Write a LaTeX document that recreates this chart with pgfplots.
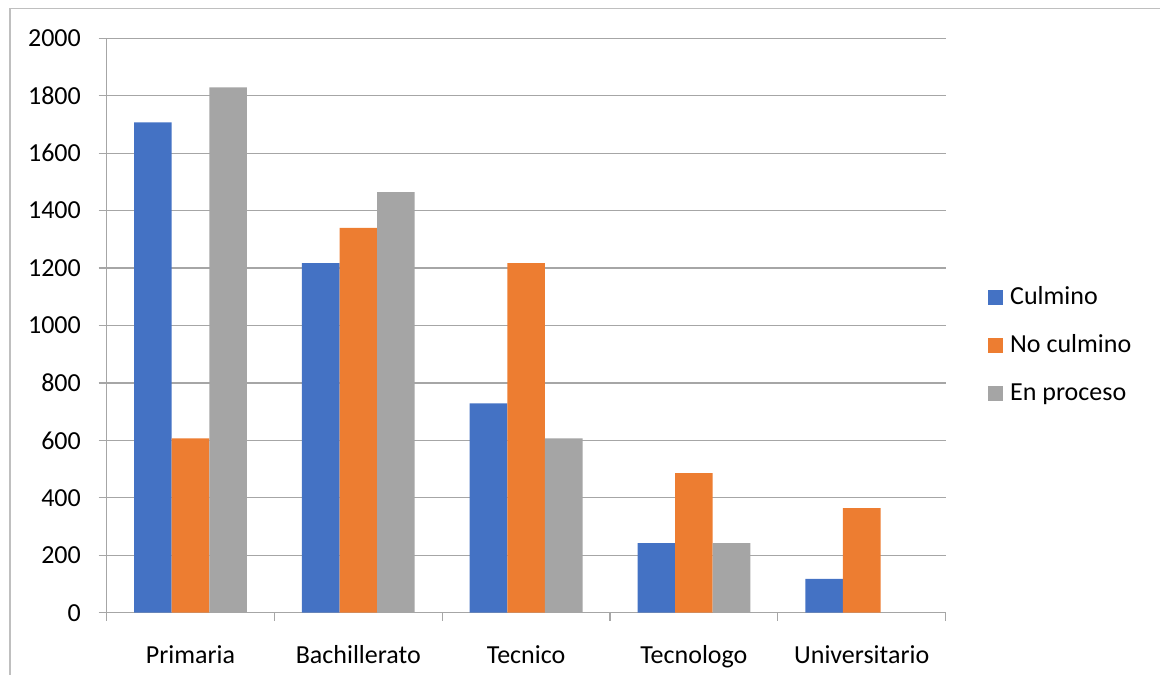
\documentclass[border=0pt]{standalone}
\usepackage{pgfplots}
\pgfplotsset{compat=1.18}
\usepackage{fontspec}
\setmainfont{Carlito}
\definecolor{cblue}{HTML}{4472C4}
\definecolor{corange}{HTML}{ED7D31}
\definecolor{cgray}{HTML}{A5A5A5}
\definecolor{gridc}{HTML}{A6A6A6}
\definecolor{framec}{HTML}{BFBFBF}
\begin{document}
\fontsize{26}{31}\selectfont
\begin{tikzpicture}
\useasboundingbox (0,0) rectangle (1160pt,675pt);
\draw[framec, line width=1.2pt] (10pt,0pt) -- (10pt,666.7pt) -- (1160pt,666.7pt);
\begin{axis}[
  at={(106.6pt,62.3pt)}, anchor=south west,
  scale only axis, width=839pt, height=574.4pt,
  ybar=0pt, bar width=37.6pt,
  xmin=-0.5, xmax=4.5, ymin=0, ymax=2000,
  xtick={0,1,2,3,4},
  xticklabels={Primaria,Bachillerato,Tecnico,Tecnologo,Universitario},
  minor xtick={-0.5,0.5,1.5,2.5,3.5,4.5},
  ytick={0,200,...,2000},
  axis lines*=left,
  axis line style={draw=gridc, line width=1.2pt, -},
  ymajorgrids, major grid style={draw=gridc, line width=1.2pt},
  tick align=outside,
  major tick length=8pt, minor tick length=8pt,
  x tick style={draw=none},
  minor x tick style={draw=gridc, line width=1.2pt},
  y tick style={draw=gridc, line width=1.2pt},
  xticklabel style={inner sep=0pt, anchor=base, yshift=-43pt},
  yticklabel style={inner sep=0pt, anchor=east, xshift=-17.6pt},
  /pgf/number format/assume math mode=true,
  /pgf/number format/1000 sep={},
  tick label style={font=\fontsize{26}{31}\selectfont},
  legend style={at={(1.0505,0.463)}, anchor=west, draw=none, fill=none,
    inner sep=0pt, row sep=26pt,
    nodes={inner sep=0pt, anchor=base west, text height=17pt, text depth=5pt,
      font=\fontsize{26}{31}\selectfont},
    /tikz/every odd column/.append style={column sep=7pt}},
  legend cell align=left,
  legend image code/.code={\fill[#1] (0pt,0pt) rectangle (15pt,15pt);},
]
\addplot[fill=cblue, draw=none] coordinates {(0,1707) (1,1217) (2,729) (3,242) (4,118)};
\addplot[fill=corange, draw=none] coordinates {(0,607) (1,1340) (2,1217) (3,486) (4,364)};
\addplot[fill=cgray, draw=none] coordinates {(0,1829) (1,1464) (2,607) (3,242) (4,0)};
\legend{Culmino,No culmino,En proceso}
\end{axis}
\end{tikzpicture}
\end{document}
